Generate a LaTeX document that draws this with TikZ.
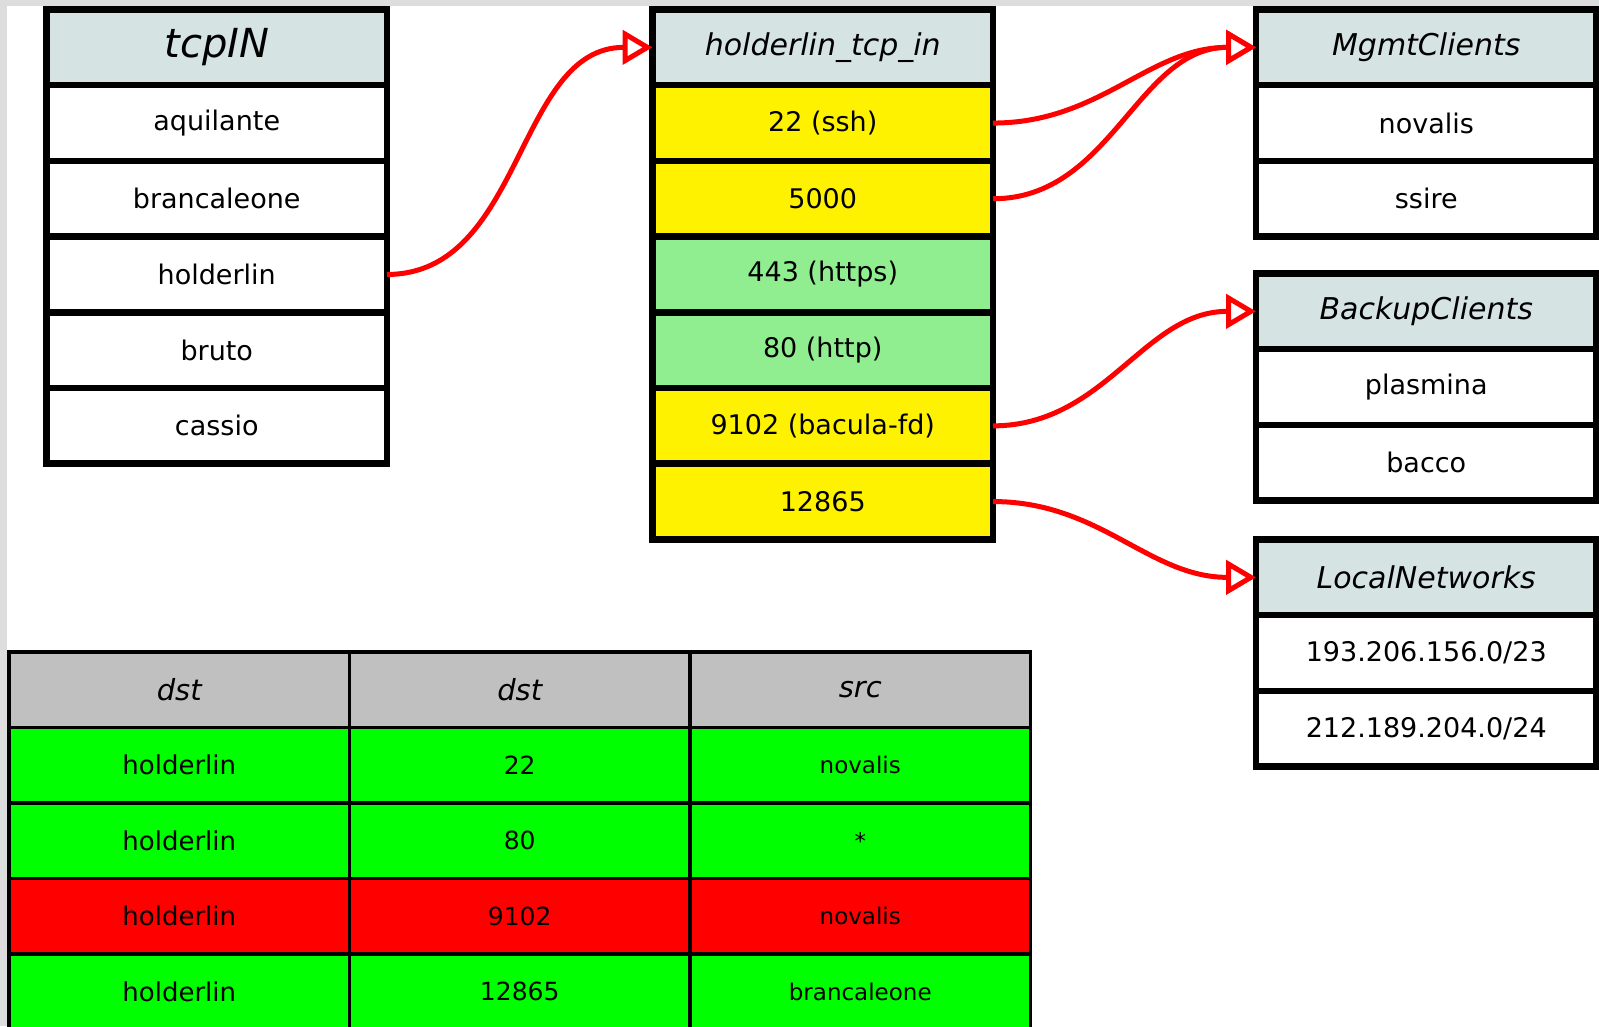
\documentclass[tikz,border=0pt]{standalone}
\usepackage{fontspec}
\setmainfont{DejaVu Sans}
\usetikzlibrary{arrows.meta}
\definecolor{hdrblue}{RGB}{214,227,227}
\definecolor{lgreen}{RGB}{144,238,144}
\definecolor{bggray}{RGB}{221,221,221}
\definecolor{thead}{RGB}{192,192,192}
\tikzset{
 cell/.style={draw=black, line width=6.5pt, minimum width=340.5pt, minimum height=75.7pt,
   inner sep=0pt, outer sep=0pt, anchor=north west, fill=white, font=\fontsize{27}{31}\selectfont},
 hdr/.style={cell, fill=hdrblue, font=\fontsize{30}{34}\selectfont\itshape},
 bighdr/.style={cell, fill=hdrblue, font=\fontsize{40}{44}\selectfont\itshape},
 ylw/.style={cell, fill=yellow},
 grn/.style={cell, fill=lgreen},
 tcell/.style={draw=black, line width=3.5pt, minimum width=340.5pt, minimum height=75.5pt,
   inner sep=0pt, outer sep=0pt, anchor=north west},
 thdr/.style={tcell, fill=thead, font=\fontsize{29}{33}\selectfont\itshape},
 tok/.style={tcell, fill=green},
 tbad/.style={tcell, fill=red},
 cola/.style={font=\fontsize{26}{30}\selectfont},
 colb/.style={font=\fontsize{25}{29}\selectfont},
 colc/.style={font=\fontsize{23}{27}\selectfont},
 arr/.style={draw=red, line width=5pt, -{Triangle[open, fill=white, length=30pt, width=34pt]}},
}
\begin{document}
\begin{tikzpicture}[x=1pt,y=-1pt]
\useasboundingbox (0,0) rectangle (1599,1026);
\begin{scope}
\clip (0,0) rectangle (1599,1026);
\fill[bggray] (0,0) rectangle (1599,1026);
\fill[white] (7,6) rectangle (1599,1026);

% tcpIN
\node[bighdr] (t0) at (46.5,9.5) {tcpIN};
\node[cell] (t1) at (46.5,85.2) {aquilante};
\node[cell] (t2) at (46.5,160.9) {brancaleone};
\node[cell] (t3) at (46.5,236.6) {holderlin};
\node[cell] (t4) at (46.5,312.3) {bruto};
\node[cell] (t5) at (46.5,388.0) {cassio};

% holderlin_tcp_in
\node[hdr] (h0) at (652.5,9.5) {holderlin\_tcp\_in};
\node[ylw] (h1) at (652.5,85.2) {22 (ssh)};
\node[ylw] (h2) at (652.5,160.9) {5000};
\node[grn] (h3) at (652.5,236.6) {443 (https)};
\node[grn] (h4) at (652.5,312.3) {80 (http)};
\node[ylw] (h5) at (652.5,388.0) {9102 (bacula-fd)};
\node[ylw] (h6) at (652.5,463.7) {12865};

% MgmtClients
\node[hdr] (m0) at (1256,9.5) {MgmtClients};
\node[cell] (m1) at (1256,85.2) {novalis};
\node[cell] (m2) at (1256,160.9) {ssire};

% BackupClients
\node[hdr] (b0) at (1256,273.5) {BackupClients};
\node[cell] (b1) at (1256,349.2) {plasmina};
\node[cell] (b2) at (1256,424.9) {bacco};

% LocalNetworks
\node[hdr] (l0) at (1256,539.5) {LocalNetworks};
\node[cell] (l1) at (1256,615.2) {193.206.156.0/23};
\node[cell] (l2) at (1256,690.9) {212.189.204.0/24};

% rule table
\node[thdr] (r0a) at (9,652) {dst};
\node[thdr] (r0b) at (349.5,652) {dst};
\node[thdr] (r0c) at (690,652) {src};
\node[tok,cola] (r1a) at (9,727.5) {holderlin};
\node[tok,colb] (r1b) at (349.5,727.5) {22};
\node[tok,colc] (r1c) at (690,727.5) {novalis};
\node[tok,cola] (r2a) at (9,803) {holderlin};
\node[tok,colb] (r2b) at (349.5,803) {80};
\node[tok,colc] (r2c) at (690,803) {*};
\node[tbad,cola] (r3a) at (9,878.5) {holderlin};
\node[tbad,colb] (r3b) at (349.5,878.5) {9102};
\node[tbad,colc] (r3c) at (690,878.5) {novalis};
\node[tok,cola] (r4a) at (9,954) {holderlin};
\node[tok,colb] (r4b) at (349.5,954) {12865};
\node[tok,colc] (r4c) at (690,954) {brancaleone};

% connectors
\draw[arr] (t3.east) to[out=0,in=180] (h0.west);
\draw[arr] (h1.east) to[out=0,in=180] (m0.west);
\draw[arr] (h2.east) to[out=0,in=180] (m0.west);
\draw[arr] (h5.east) to[out=0,in=180] (b0.west);
\draw[arr] (h6.east) to[out=0,in=180] (l0.west);
\end{scope}
\end{tikzpicture}
\end{document}
